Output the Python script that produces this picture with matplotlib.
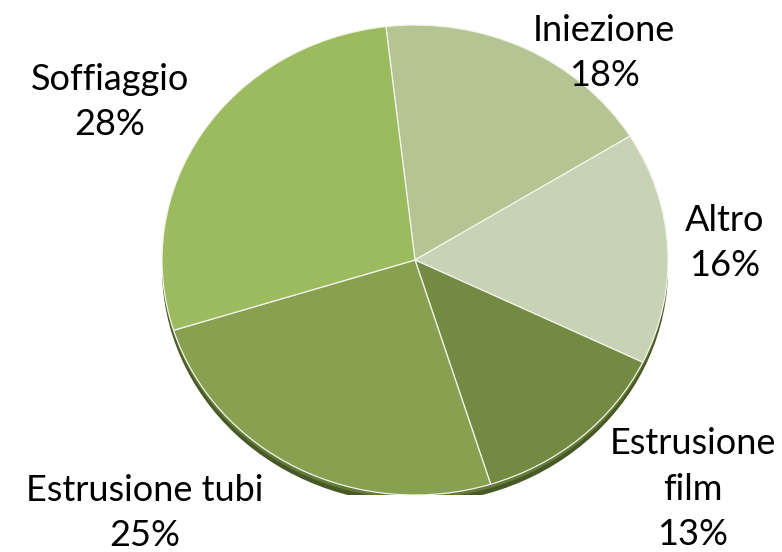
import matplotlib.pyplot as plt
from matplotlib.patches import Ellipse

labels = ['Iniezione', 'Altro', 'Estrusione\nfilm', 'Estrusione tubi', 'Soffiaggio']
shares = [18, 16, 13, 25, 28]
colors = ['#b4c593', '#c7d3b4', '#738a43', '#87a151', '#9cbb5f']

# label centres in pixels (x from left, y from top)
label_pos = [(604, 53), (725, 243), (693, 489), (145, 513), (110, 102)]

W, H = 782, 552
fig = plt.figure(figsize=(W / 100, H / 100), dpi=100)
fig.patch.set_facecolor('white')

cx, cy, rx, ry = 415, 260, 253, 235
ax = fig.add_axes([(cx - rx) / W, (H - cy - ry) / H, 2 * rx / W, 2 * ry / H])

# darker rim for the 3D look
ax.add_patch(Ellipse((0, -0.036), 2.0, 2.0, facecolor='#465927', edgecolor='none', zorder=0))
ax.add_patch(Ellipse((0, -0.016), 2.0, 2.0, facecolor='#657a39', edgecolor='none', zorder=0))

wedges, _ = ax.pie(shares, colors=colors, startangle=96.6, counterclock=False,
                   radius=1.0,
                   wedgeprops=dict(edgecolor='#f2f5ec', linewidth=0.9))
for w in wedges:
    w.set_zorder(2)
ax.set_aspect('auto')
ax.set_xlim(-1, 1)
ax.set_ylim(-1, 1)
ax.axis('off')

for lab, val, (px, py) in zip(labels, shares, label_pos):
    fig.text(px / W, 1 - py / H, f'{lab}\n{val}%', ha='center', va='center',
             fontsize=26, family='Lato', linespacing=1.45, color='black')

fig.savefig('out.png', dpi=100)
